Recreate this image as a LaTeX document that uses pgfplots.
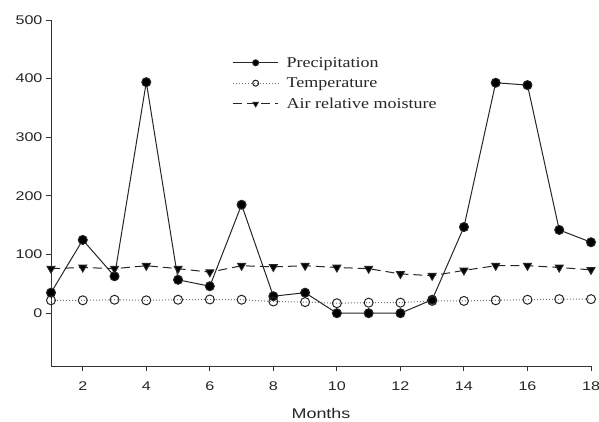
\documentclass[border=0pt]{standalone}
\usepackage{fontspec}
\setmainfont{Liberation Serif}
\setsansfont{Liberation Sans}
\newfontfamily\legfont{Liberation Serif}[FakeStretch=1.2]
\newfontfamily\tickfont{Liberation Sans}[FakeStretch=1.28]
\usepackage{pgfplots}
\pgfplotsset{compat=1.18}
\begin{document}
\begin{tikzpicture}
\begin{axis}[
  scale only axis, width=540pt, height=346pt,
  xmin=1, xmax=18, ymin=-90, ymax=500,
  axis x line*=bottom, axis y line*=left,
  axis line style={line width=0.9pt, black!80},
  xtick={2,4,...,18}, ytick={0,100,...,500},
  tick align=outside, major tick length=5pt,
  tick style={line width=0.9pt, black!80},
  /pgf/number format/assume math mode=true,
  tick label style={font=\tickfont\fontsize{12.6}{13}\selectfont, text=black!85},
  xticklabel style={yshift=-7pt},
  xlabel={Months},
  xlabel style={font=\tickfont\fontsize{14}{15}\selectfont, text=black!85, yshift=-11pt},
  legend style={at={(rel axis cs:0.33,0.905)}, anchor=north west, draw=none, fill=none,
    font=\legfont\fontsize{15}{17}\selectfont, row sep=5pt, text=black!85},
  legend cell align=left,
  legend image code/.code={\draw[mark repeat=2,mark phase=2, mark size=3pt] plot coordinates {(0cm,0cm) (0.8cm,0cm) (1.6cm,0cm)}; \path (1.8cm,0cm);},
  clip=false,
]
\coordinate (O) at (rel axis cs:0,0);
\addplot[line width=1pt, black!85, mark=*, mark size=4.5pt, mark options={solid, fill=black}] coordinates {
(1,35) (2,125) (3,63) (4,394) (5,57) (6,46) (7,185) (8,29) (9,35) (10,0) (11,0) (12,0) (13,23) (14,147) (15,393) (16,389) (17,142) (18,121)};
\addlegendentry{Precipitation}
\addplot[line width=1pt, black!55, dotted, mark=o, mark size=4.5pt, mark options={solid, fill=white, draw=black!85, line width=1pt}] coordinates {
(1,22) (2,22) (3,23) (4,22) (5,23) (6,23.5) (7,23) (8,20) (9,19) (10,17) (11,18) (12,18) (13,21) (14,21) (15,22) (16,23) (17,24) (18,24)};
\addlegendentry{Temperature}
\addplot[line width=1pt, black!85, dash pattern=on 9pt off 5pt, mark=triangle*, mark size=4.5pt, mark options={solid, fill=black, rotate=180}] coordinates {
(1,76) (2,78) (3,76) (4,81) (5,76) (6,70) (7,81) (8,79) (9,81) (10,78) (11,76) (12,67) (13,64) (14,73) (15,81) (16,81) (17,78) (18,74)};
\addlegendentry{Air relative moisture}
\end{axis}
\pgfresetboundingbox
\path (O) ++(-51pt,-56pt) rectangle ++(599pt,422pt);
\end{tikzpicture}
\end{document}
